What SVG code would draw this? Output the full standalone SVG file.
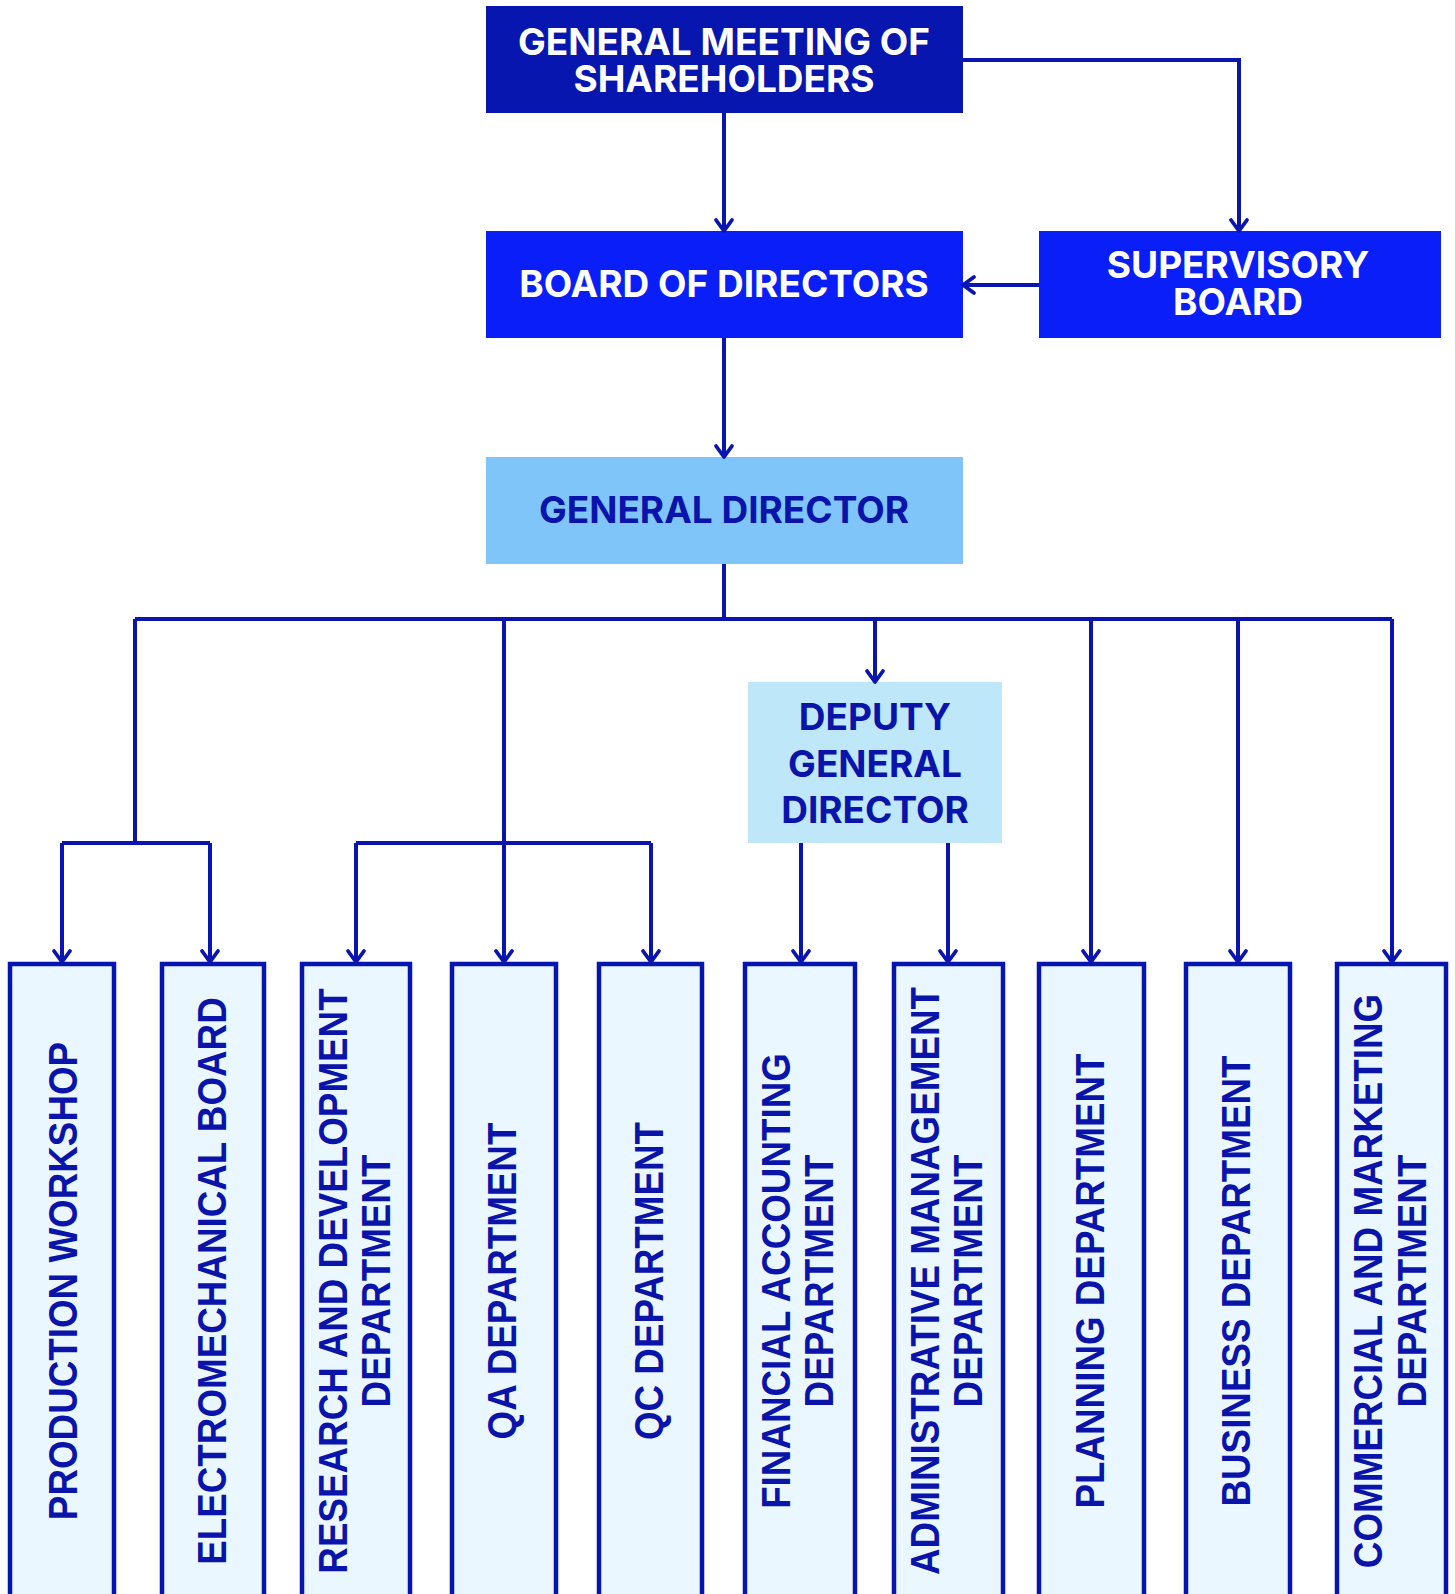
<svg xmlns="http://www.w3.org/2000/svg" width="1455" height="1594" viewBox="0 0 1455 1594">
<style>
.top{font-family:Inter,"Liberation Sans",sans-serif;font-weight:700;font-size:37px;text-anchor:middle}
.w{fill:#ffffff}
.d{fill:#0A14AA}
.v{font-family:"Liberation Sans",Arial,sans-serif;font-weight:700;font-size:40px;fill:#0A14AA;text-anchor:middle}
.dept{fill:#EAF7FE;stroke:#0614B0;stroke-width:4.5}
.con{fill:none;stroke:#0A14AE;stroke-width:4}
</style>
<defs>
<marker id="ah" markerUnits="userSpaceOnUse" markerWidth="30" markerHeight="30" viewBox="-15 -15 30 30" refX="-1" refY="0" orient="auto">
<path d="M-11,-8 L0,0 L-11,8" fill="none" stroke="#0A14AE" stroke-width="3.8" stroke-linejoin="round" stroke-linecap="round"/>
</marker>
</defs>
<rect width="1455" height="1594" fill="#ffffff"/>
<g id="gms">
<rect x="486" y="6" width="477" height="107" fill="#0616AE"/>
<text class="top w"><tspan x="724" y="55">GENERAL MEETING OF</tspan><tspan x="724" y="92">SHAREHOLDERS</tspan></text>
</g>
<g id="bod">
<rect x="486" y="231" width="477" height="107" fill="#0A1EF8"/>
<text class="top w" x="724" y="297">BOARD OF DIRECTORS</text>
</g>
<g id="supervisory">
<rect x="1039" y="231" width="402" height="107" fill="#0A1EF8"/>
<text class="top w"><tspan x="1238" y="278">SUPERVISORY</tspan><tspan x="1238" y="315">BOARD</tspan></text>
</g>
<g id="gd">
<rect x="486" y="457" width="477" height="107" fill="#80C5F9"/>
<text class="top d" x="724" y="523">GENERAL DIRECTOR</text>
</g>
<g id="deputy">
<rect x="748" y="682" width="254" height="161" fill="#BEE7F9"/>
<text class="top d"><tspan x="875" y="730">DEPUTY</tspan><tspan x="875" y="777">GENERAL</tspan><tspan x="875" y="823">DIRECTOR</tspan></text>
</g>
<g id="production">
<rect class="dept" x="10" y="964" width="104" height="700"/>
<text class="v" transform="translate(62,1281) rotate(-90) scale(0.92,1)" x="0" y="14.5">PRODUCTION WORKSHOP</text>
</g>
<g id="electromechanical">
<rect class="dept" x="162" y="964" width="102" height="700"/>
<text class="v" transform="translate(211,1281) rotate(-90) scale(0.92,1)" x="0" y="14.5">ELECTROMECHANICAL BOARD</text>
</g>
<g id="rnd">
<rect class="dept" x="302" y="964" width="108" height="700"/>
<text class="v" transform="translate(354,1281) rotate(-90) scale(0.92,1)"><tspan x="0" y="-7.5">RESEARCH AND DEVELOPMENT</tspan><tspan x="0" y="36">DEPARTMENT</tspan></text>
</g>
<g id="qa">
<rect class="dept" x="452" y="964" width="104" height="700"/>
<text class="v" transform="translate(501,1281) rotate(-90) scale(0.92,1)" x="0" y="14.5">QA DEPARTMENT</text>
</g>
<g id="qc">
<rect class="dept" x="599" y="964" width="103" height="700"/>
<text class="v" transform="translate(648,1281) rotate(-90) scale(0.92,1)" x="0" y="14.5">QC DEPARTMENT</text>
</g>
<g id="financial">
<rect class="dept" x="745" y="964" width="110" height="700"/>
<text class="v" transform="translate(797,1281) rotate(-90) scale(0.92,1)"><tspan x="0" y="-7">FINANCIAL ACCOUNTING</tspan><tspan x="0" y="36">DEPARTMENT</tspan></text>
</g>
<g id="administrative">
<rect class="dept" x="894" y="964" width="109" height="700"/>
<text class="v" transform="translate(946,1281) rotate(-90) scale(0.92,1)"><tspan x="0" y="-7">ADMINISTRATIVE MANAGEMENT</tspan><tspan x="0" y="36">DEPARTMENT</tspan></text>
</g>
<g id="planning">
<rect class="dept" x="1039" y="964" width="105" height="700"/>
<text class="v" transform="translate(1089,1281) rotate(-90) scale(0.92,1)" x="0" y="14.5">PLANNING DEPARTMENT</text>
</g>
<g id="business">
<rect class="dept" x="1186" y="964" width="104" height="700"/>
<text class="v" transform="translate(1235,1281) rotate(-90) scale(0.92,1)" x="0" y="14.5">BUSINESS DEPARTMENT</text>
</g>
<g id="commercial">
<rect class="dept" x="1337" y="964" width="109" height="700"/>
<text class="v" transform="translate(1389,1281) rotate(-90) scale(0.92,1)"><tspan x="0" y="-7">COMMERCIAL AND MARKETING</tspan><tspan x="0" y="37">DEPARTMENT</tspan></text>
</g>
<g id="connectors" class="con">
<path d="M724,113 V230" marker-end="url(#ah)"/>
<path d="M963,60 H1239 V230" marker-end="url(#ah)"/>
<path d="M1039,285 H964" marker-end="url(#ah)"/>
<path d="M724,338 V456" marker-end="url(#ah)"/>
<path d="M724,564 V619"/>
<path d="M135,619 H1392"/>
<path d="M875,619 V681" marker-end="url(#ah)"/>
<path d="M135,619 V843"/>
<path d="M62,843 H210"/>
<path d="M62,843 V961" marker-end="url(#ah)"/>
<path d="M210,843 V961" marker-end="url(#ah)"/>
<path d="M356,843 H651"/>
<path d="M356,843 V961" marker-end="url(#ah)"/>
<path d="M504,619 V961" marker-end="url(#ah)"/>
<path d="M651,843 V961" marker-end="url(#ah)"/>
<path d="M801,843 V961" marker-end="url(#ah)"/>
<path d="M948,843 V961" marker-end="url(#ah)"/>
<path d="M1091,619 V961" marker-end="url(#ah)"/>
<path d="M1238,619 V961" marker-end="url(#ah)"/>
<path d="M1392,619 V961" marker-end="url(#ah)"/>
</g>
</svg>
